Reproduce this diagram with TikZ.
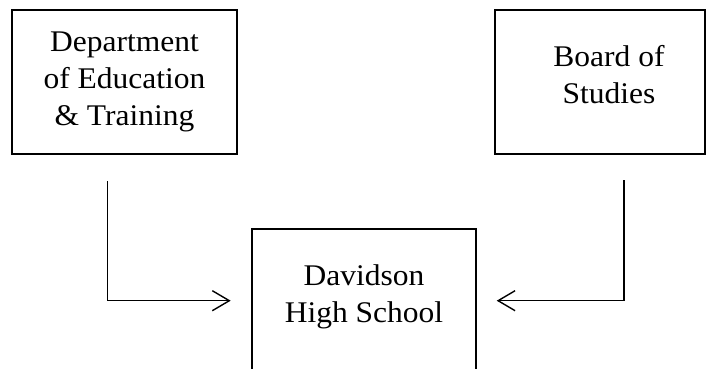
\documentclass[tikz,border=0pt]{standalone}
\usepackage{fontspec}
\setmainfont{Liberation Serif}[FakeStretch=1.05]
\usetikzlibrary{arrows.meta}
\tikzset{
  box/.style={draw, line width=1.8pt, inner sep=0pt},
  boxtext/.style={align=center, inner sep=0pt, font=\fontsize{30}{37}\selectfont},
  feed/.style={line width=1.4pt, -{Straight Barb[length=17pt,width=20pt,line width=1.4pt]}}
}
\begin{document}
\begin{tikzpicture}[x=1pt,y=-1pt]
\clip (0,0) rectangle (709,369);
% boxes
\node[box, minimum width=225pt, minimum height=144pt] (deptbox) at (124.5,82) {};
\node[box, minimum width=210pt, minimum height=144pt] (bosbox) at (600,82) {};
\node[box, minimum width=224pt, minimum height=180pt] (dhsbox) at (364,319) {};
\node[boxtext] (dept) at (124.5,81.5) {Department\\of Education\\\& Training};
\node[boxtext] (bos) at (609,75) {Board of\\Studies};
\node[boxtext] (dhs) at (364,297) {Davidson\\High School};

% connectors
\coordinate (deptfoot) at (107.7,181);
\coordinate (bosfoot) at (624,180);
\coordinate (dhsleft) at (230.7,300.7);
\coordinate (dhsright) at (496.7,300.7);
\draw[feed] (deptfoot) |- (dhsleft);
\draw[feed] (bosfoot) |- (dhsright);
\end{tikzpicture}
\end{document}
